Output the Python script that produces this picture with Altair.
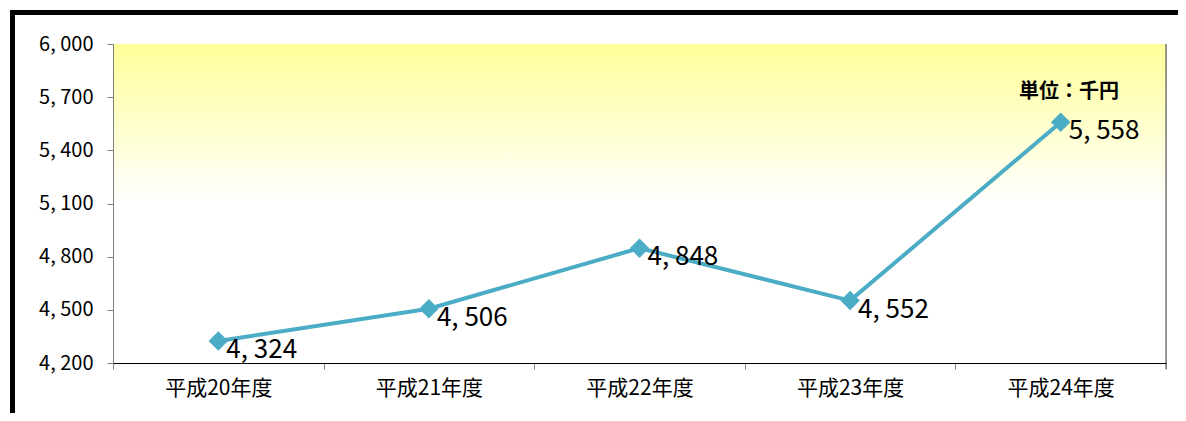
import altair as alt
import pandas as pd

years = ["平成20年度", "平成21年度", "平成22年度", "平成23年度", "平成24年度"]
values = [4324, 4506, 4848, 4552, 5558]
y_ticks = [4200, 4500, 4800, 5100, 5400, 5700, 6000]
unit_label = "単位：千円"

W, H = 1053, 319
LINE_COLOR = "#4BACC6"
FONT = "Noto Sans CJK JP"

df = pd.DataFrame({"year": years, "value": values})
one = pd.DataFrame({"k": [0]})

xenc = alt.X(
    "year:N", sort=years, bandPosition=0.5,
    scale=alt.Scale(type="band", paddingInner=0, paddingOuter=0),
    axis=alt.Axis(title=None, tickBand="extent", labelAngle=0, tickSize=6,
                  tickColor="#808080", domainColor="#000000", labelFont=FONT,
                  labelFontSize=21, labelColor="#000000", labelPadding=8,
                  zindex=1),
)
yenc = alt.Y(
    "value:Q",
    scale=alt.Scale(domain=[4200, 6000], nice=False, zero=False),
    axis=alt.Axis(title=None, values=y_ticks, grid=False, tickSize=6,
                  tickColor="#808080", domainColor="#808080", labelFont=FONT,
                  labelFontSize=20, labelColor="#000000", labelPadding=14,
                  labelExpr="replace(format(datum.value, ','), ',', ', ')",
                  zindex=1),
)

bg = alt.Chart(one).mark_rect(
    fill=alt.Gradient(
        gradient="linear", x1=0, x2=0, y1=0, y2=1,
        stops=[alt.GradientStop(offset=0, color="#FFFF99"),
               alt.GradientStop(offset=0.5, color="#FFFFFF"),
               alt.GradientStop(offset=1, color="#FFFFFF")],
    )
).encode(x=alt.value(0), x2=alt.value(W), y=alt.value(0), y2=alt.value(H))

base = alt.Chart(df).encode(x=xenc, y=yenc)
line = base.mark_line(color=LINE_COLOR, strokeWidth=4)
pts = base.mark_point(shape="diamond", filled=True, size=380, color=LINE_COLOR, opacity=1)
labels = base.transform_calculate(
    label="replace(format(datum.value, ','), ',', ', ')"
).mark_text(align="left", baseline="middle", dx=8, dy=9, font=FONT,
            fontSize=26, color="#000000").encode(text="label:N")

right_border = alt.Chart(one).mark_rule(color="#404040", strokeWidth=1).encode(
    x=alt.value(W), y=alt.value(0), y2=alt.value(H + 6))
left_frame = alt.Chart(one).mark_rule(color="#000000", strokeWidth=5).encode(
    x=alt.value(-100.5), y=alt.value(-34), y2=alt.value(H + 60))
top_frame = alt.Chart(one).mark_rule(color="#000000", strokeWidth=5).encode(
    x=alt.value(-103), x2=alt.value(W + 20), y=alt.value(-31.5))

unit = alt.Chart(one).mark_text(font=FONT, fontSize=20, fontWeight="bold",
                                color="#000000", align="center", baseline="middle").encode(
    x=alt.value(956), y=alt.value(48), text=alt.value(unit_label))

chart = alt.layer(bg, line, pts, labels, right_border, left_frame, top_frame, unit).properties(
    width=W, height=H,
    autosize=alt.AutoSizeParams(type="none"),
    padding={"left": 105, "top": 36, "right": 12, "bottom": 50},
).configure_view(stroke=None).configure(background="#FFFFFF")

chart.save("out.html", embed_options={"renderer": "svg", "actions": False})
